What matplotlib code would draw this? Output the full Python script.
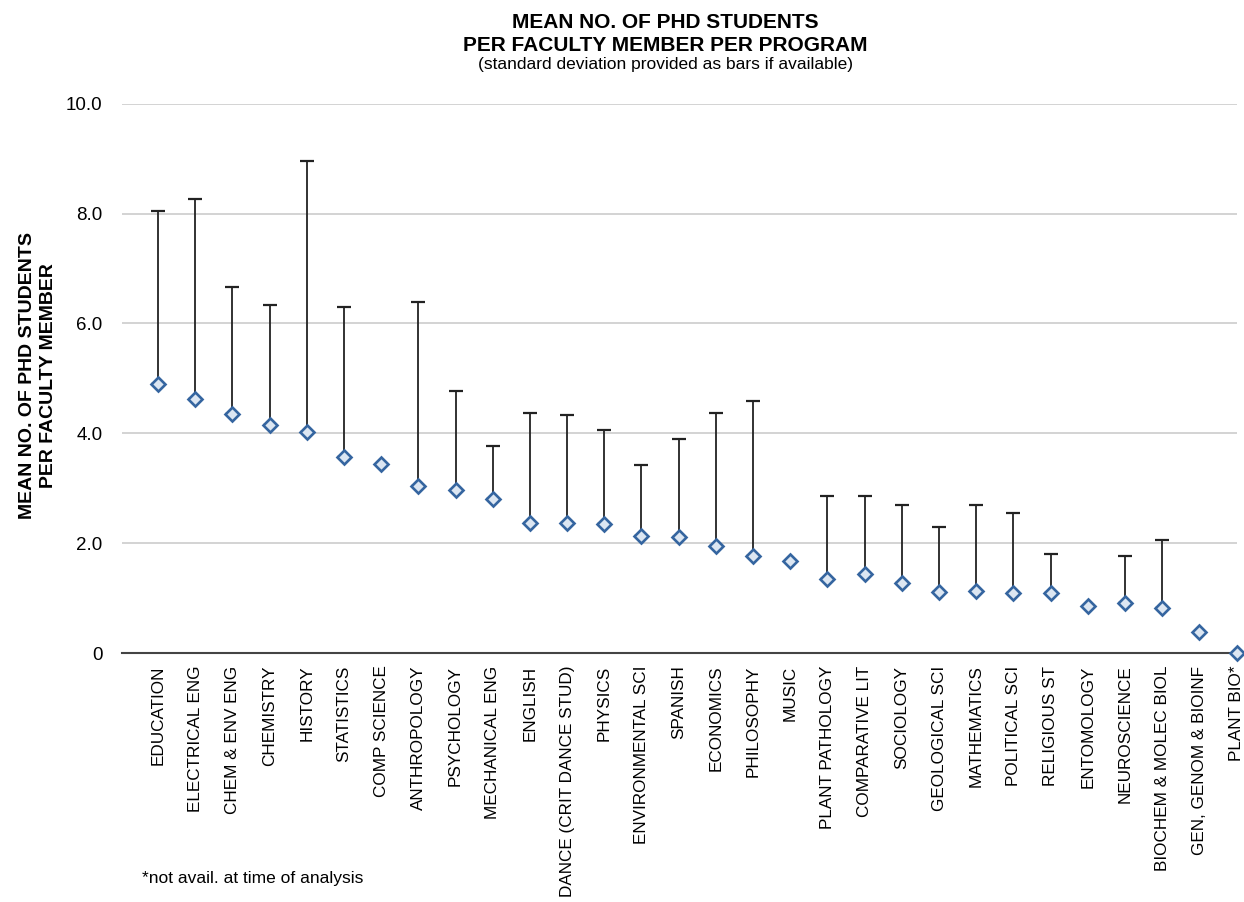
import numpy as np
import matplotlib.pyplot as plt

plt.rcParams['font.family'] = ['Liberation Sans', 'DejaVu Sans']

programs = ["EDUCATION", "ELECTRICAL ENG", "CHEM & ENV ENG", "CHEMISTRY", "HISTORY",
            "STATISTICS", "COMP SCIENCE", "ANTHROPOLOGY", "PSYCHOLOGY", "MECHANICAL ENG",
            "ENGLISH", "DANCE (CRIT DANCE STUD)", "PHYSICS", "ENVIRONMENTAL SCI", "SPANISH",
            "ECONOMICS", "PHILOSOPHY", "MUSIC", "PLANT PATHOLOGY", "COMPARATIVE LIT",
            "SOCIOLOGY", "GEOLOGICAL SCI", "MATHEMATICS", "POLITICAL SCI", "RELIGIOUS ST",
            "ENTOMOLOGY", "NEUROSCIENCE", "BIOCHEM & MOLEC BIOL", "GEN, GENOM & BIOINF", "PLANT BIO*"]
means = [4.90, 4.63, 4.35, 4.15, 4.03, 3.57, 3.44, 3.04, 2.97, 2.80,
         2.37, 2.37, 2.35, 2.13, 2.11, 1.95, 1.77, 1.67, 1.35, 1.44,
         1.27, 1.11, 1.13, 1.09, 1.09, 0.85, 0.91, 0.82, 0.38, 0.0]
# mean + sd (top of bar), nan where not available
upper = [8.05, 8.27, 6.67, 6.34, 8.96, 6.30, np.nan, 6.39, 4.77, 3.77,
         4.37, 4.33, 4.06, 3.42, 3.90, 4.37, 4.59, np.nan, 2.86, 2.86,
         2.70, 2.30, 2.70, 2.55, 1.80, np.nan, 1.77, 2.06, np.nan, np.nan]

x = np.arange(len(programs))
means = np.array(means)
sd = np.nan_to_num(np.array(upper) - means)
has = sd > 0

fig = plt.figure(figsize=(12.44, 9.02), dpi=100)
ax = fig.add_axes([0.098, 0.276, 0.896, 0.609])

ax.errorbar(x[has], means[has], yerr=[np.zeros(has.sum()), sd[has]], fmt='none',
            ecolor='#222222', elinewidth=1.3, capsize=5, capthick=1.6, zorder=2)
ax.plot(x, means, linestyle='none', marker='D', markersize=7,
        markerfacecolor='#dce6f2', markeredgecolor='#3565a0', markeredgewidth=1.9,
        clip_on=False, zorder=3)

ax.set_xlim(-0.97, len(programs) - 1)
ax.set_ylim(0, 10)
ax.set_yticks([0, 2, 4, 6, 8, 10])
ax.set_yticklabels(["0", "2.0", "4.0", "6.0", "8.0", "10.0"])
ax.yaxis.grid(True, color='#cccccc', linewidth=1.2)
ax.set_axisbelow(True)
for s in ['top', 'right', 'left']:
    ax.spines[s].set_visible(False)
ax.spines['bottom'].set_color('#444444')
ax.spines['bottom'].set_linewidth(1.5)
ax.spines['bottom'].set_zorder(2.5)
ax.tick_params(length=0)
ax.tick_params(axis='y', labelsize=13.5, pad=14)
ax.set_xticks(x)
ax.set_xticklabels(programs, rotation=90, fontsize=12.3, va='top')
ax.tick_params(axis='x', pad=9)

ax.set_ylabel("MEAN NO. OF PHD STUDENTS\nPER FACULTY MEMBER", fontsize=14,
              fontweight='bold', linespacing=1.35)
ax.yaxis.set_label_coords(-0.058, 0.506)

fig.text(0.535, 0.975, "MEAN NO. OF PHD STUDENTS", ha='center', va='center',
         fontsize=15, fontweight='bold')
fig.text(0.535, 0.950, "PER FACULTY MEMBER PER PROGRAM", ha='center', va='center',
         fontsize=15, fontweight='bold')
fig.text(0.535, 0.928, "(standard deviation provided as bars if available)",
         ha='center', va='center', fontsize=12.5)
fig.text(0.114, 0.026, "*not avail. at time of analysis", ha='left', va='center',
         fontsize=12.5)

fig.savefig("out.png", dpi=100)
